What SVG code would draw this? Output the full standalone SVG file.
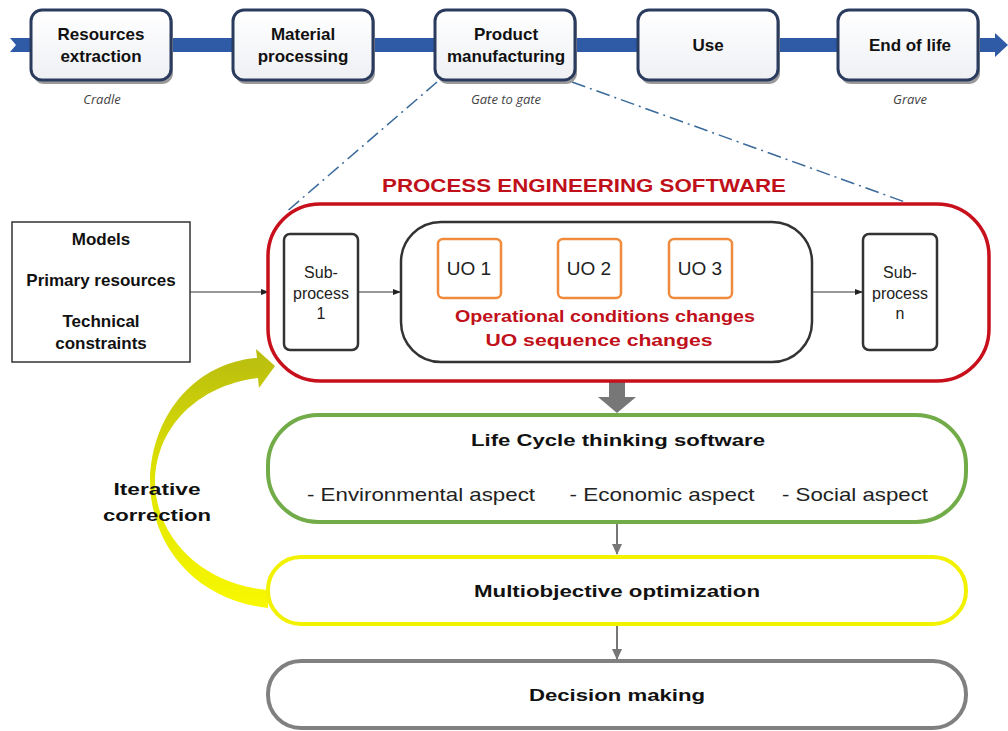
<svg xmlns="http://www.w3.org/2000/svg" width="1008" height="731" viewBox="0 0 1008 731">
<style>
.bx{fill:url(#bg);stroke:#2b3b5e;stroke-width:3}
.sh{fill:#9a9a9a}
.bt{font-family:"Liberation Sans",Arial,sans-serif;font-weight:bold;font-size:17px;fill:#111;text-anchor:middle}
.it{font-family:"Open Sans","Liberation Sans",sans-serif;font-style:italic;font-size:13px;fill:#444;text-anchor:middle}
.nt{font-family:"Liberation Sans",Arial,sans-serif;font-size:16px;fill:#222;text-anchor:middle}
.uo{fill:#fff;stroke:#f08a3c;stroke-width:2.5}
.uot{font-family:"Liberation Sans",Arial,sans-serif;font-size:19px;fill:#222;text-anchor:middle}
.rt{font-family:"Liberation Sans",Arial,sans-serif;font-weight:bold;font-size:17px;fill:#c0101a;text-anchor:middle}
.at{font-family:"Liberation Sans",Arial,sans-serif;font-size:19px;fill:#222;text-anchor:middle}
.ln{stroke:#333;stroke-width:1;fill:none}
.gl{stroke:#777;stroke-width:2;fill:none}
</style>
<defs>
<linearGradient id="bg" x1="0" y1="0" x2="0" y2="1">
<stop offset="0" stop-color="#ffffff"/><stop offset="1" stop-color="#eef0f4"/>
</linearGradient>
<linearGradient id="yg" x1="0" y1="0" x2="0" y2="1">
<stop offset="0" stop-color="#b8bc10"/><stop offset="0.5" stop-color="#e0e400"/><stop offset="1" stop-color="#f8f800"/>
</linearGradient>
<marker id="ab" markerWidth="8" markerHeight="8" refX="7" refY="4" orient="auto" markerUnits="userSpaceOnUse">
<path d="M0,1 L8,4 L0,7 Z" fill="#222"/>
</marker>
<marker id="ao" markerWidth="8" markerHeight="8" refX="7" refY="4" orient="auto" markerUnits="userSpaceOnUse">
<path d="M0,1 L8,4 L0,7 Z" fill="#f08a3c"/>
</marker>
<marker id="ag" markerWidth="12" markerHeight="10" refX="10" refY="5" orient="auto" markerUnits="userSpaceOnUse">
<path d="M0,0 L11,5 L0,10 Z" fill="#777"/>
</marker>
</defs>

<!-- lifecycle band -->
<polygon points="10,38 995,38 995,33 1008,45 995,57 995,52 10,52 16,45" fill="#2f5aa6"/>

<g id="connectors">
<line x1="437" y1="82" x2="285" y2="213" stroke="#3a6a9a" stroke-width="1.5" stroke-dasharray="14,5,2,5"/>
<line x1="572" y1="82" x2="905" y2="202" stroke="#3a6a9a" stroke-width="1.5" stroke-dasharray="14,5,2,5"/>
<line class="ln" x1="190" y1="292" x2="268" y2="292" marker-end="url(#ab)"/>
<line class="ln" x1="358" y1="292" x2="400" y2="292" marker-end="url(#ab)"/>
<line class="ln" x1="812" y1="292" x2="862" y2="292" marker-end="url(#ab)"/>
<line x1="501" y1="268" x2="557" y2="268" stroke="#f08a3c" stroke-width="1" marker-end="url(#ao)"/>
<line x1="621" y1="268" x2="668" y2="268" stroke="#f08a3c" stroke-width="1" marker-end="url(#ao)"/>
<polygon points="609,380 625,380 625,397 636,397 617,413 598,397 609,397" fill="#777"/>
<line class="gl" x1="617" y1="523" x2="617" y2="554" marker-end="url(#ag)"/>
<line class="gl" x1="617" y1="625" x2="617" y2="659" marker-end="url(#ag)"/>
<path d="M257 358 C200 362,152 410,150 480 C150 545,195 600,268 608 L268 590 C205 585,156 540,155 482 C156 425,200 385,258 378 L259 388 L275 366 L256 349 Z" fill="url(#yg)"/>
</g>

<g id="resources">
<rect class="sh" x="33" y="13" width="140" height="71" rx="11"/>
<rect class="bx" x="31" y="10" width="140" height="70" rx="11"/>
<text class="bt" x="101" y="40">Resources</text><text class="bt" x="101" y="62">extraction</text>
</g>
<g id="material">
<rect class="sh" x="235" y="13" width="140" height="71" rx="11"/>
<rect class="bx" x="233" y="10" width="140" height="70" rx="11"/>
<text class="bt" x="303" y="40">Material</text><text class="bt" x="303" y="62">processing</text>
</g>
<g id="product">
<rect class="sh" x="437" y="13" width="140" height="71" rx="11"/>
<rect class="bx" x="435" y="10" width="140" height="70" rx="11"/>
<text class="bt" x="506" y="40">Product</text><text class="bt" x="506" y="62">manufacturing</text>
</g>
<g id="use">
<rect class="sh" x="640" y="13" width="140" height="71" rx="11"/>
<rect class="bx" x="638" y="10" width="140" height="70" rx="11"/>
<text class="bt" x="708" y="51">Use</text>
</g>
<g id="endoflife">
<rect class="sh" x="840" y="13" width="140" height="71" rx="11"/>
<rect class="bx" x="838" y="10" width="140" height="70" rx="11"/>
<text class="bt" x="910" y="51">End of life</text>
</g>
<g id="stage-labels">
<text class="it" x="102" y="104">Cradle</text>
<text class="it" x="506" y="104">Gate to gate</text>
<text class="it" x="910" y="104">Grave</text>
</g>

<g id="pes">
<text x="584" y="192" font-family="Liberation Sans,Arial,sans-serif" font-weight="bold" font-size="19" fill="#c0101a" text-anchor="middle" textLength="404" lengthAdjust="spacingAndGlyphs">PROCESS ENGINEERING SOFTWARE</text>
<rect x="268" y="204" width="721" height="177" rx="52" fill="none" stroke="#c8101c" stroke-width="3.5"/>
</g>

<g id="inputs">
<rect x="12" y="222" width="178" height="140" fill="#fff" stroke="#333" stroke-width="1.5"/>
<text class="bt" x="101" y="245" font-size="16">Models</text>
<text class="bt" x="101" y="286" font-size="16">Primary resources</text>
<text class="bt" x="101" y="327" font-size="16">Technical</text>
<text class="bt" x="101" y="349" font-size="16">constraints</text>
</g>

<g id="sub1">
<rect x="284" y="234" width="74" height="116" rx="6" fill="#fff" stroke="#333" stroke-width="2.5"/>
<text class="nt" x="321" y="278">Sub-</text><text class="nt" x="321" y="299">process</text><text class="nt" x="321" y="319">1</text>
</g>

<g id="uo-block">
<rect x="401" y="222" width="411" height="140" rx="40" fill="#fff" stroke="#333" stroke-width="2.5"/>
<text class="rt" x="605" y="322" textLength="300" lengthAdjust="spacingAndGlyphs">Operational conditions changes</text>
<text class="rt" x="599" y="346" textLength="227" lengthAdjust="spacingAndGlyphs">UO sequence changes</text>
</g>
<g id="uo1"><rect class="uo" x="438" y="239" width="63" height="59" rx="5"/><text class="uot" x="469" y="275">UO 1</text></g>
<g id="uo2"><rect class="uo" x="558" y="239" width="63" height="59" rx="5"/><text class="uot" x="589" y="275">UO 2</text></g>
<g id="uo3"><rect class="uo" x="669" y="239" width="63" height="59" rx="5"/><text class="uot" x="700" y="275">UO 3</text></g>

<g id="subn">
<rect x="863" y="234" width="74" height="116" rx="6" fill="#fff" stroke="#333" stroke-width="2.5"/>
<text class="nt" x="900" y="278">Sub-</text><text class="nt" x="900" y="299">process</text><text class="nt" x="900" y="319">n</text>
</g>

<g id="lct">
<rect x="268" y="415" width="698" height="107" rx="50" fill="#fff" stroke="#72ac48" stroke-width="4"/>
<text class="bt" x="618" y="446" font-size="19" textLength="294" lengthAdjust="spacingAndGlyphs">Life Cycle thinking software</text>
<text class="at" x="421" y="501" textLength="228" lengthAdjust="spacingAndGlyphs">- Environmental aspect</text>
<text class="at" x="662" y="501" textLength="185" lengthAdjust="spacingAndGlyphs">- Economic aspect</text>
<text class="at" x="855" y="501" textLength="146" lengthAdjust="spacingAndGlyphs">- Social aspect</text>
</g>

<g id="moo">
<rect x="268" y="557" width="698" height="67" rx="33" fill="#fff" stroke="#f2f200" stroke-width="4"/>
<text class="bt" x="617" y="597" font-size="19" textLength="286" lengthAdjust="spacingAndGlyphs">Multiobjective optimization</text>
</g>

<g id="decision">
<rect x="268" y="661" width="698" height="67" rx="33" fill="#fff" stroke="#808080" stroke-width="4"/>
<text class="bt" x="617" y="701" font-size="19" textLength="176" lengthAdjust="spacingAndGlyphs">Decision making</text>
</g>

<g id="iterative">
<text class="bt" x="157" y="495" font-size="19" textLength="87" lengthAdjust="spacingAndGlyphs">Iterative</text>
<text class="bt" x="157" y="521" font-size="19" textLength="108" lengthAdjust="spacingAndGlyphs">correction</text>
</g>
</svg>
